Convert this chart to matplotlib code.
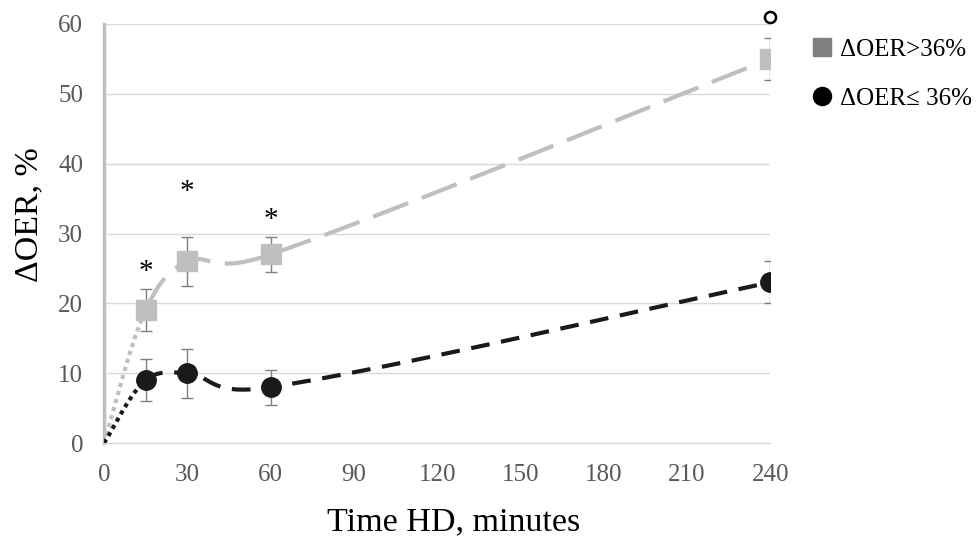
import numpy as np
import matplotlib.pyplot as plt
from matplotlib.lines import Line2D

plt.rcParams['font.family'] = ['Liberation Serif', 'DejaVu Serif']

t = [0, 15, 30, 60, 240]
high = [0, 19, 26, 27, 55]
high_err = [0, 3, 3.5, 2.5, 3]
low = [0, 9, 10, 8, 23]
low_err = [0, 3, 3.5, 2.5, 3]
star_t = [15, 30, 60]
star_y = [24.5, 36, 32]
circ_t = 240
circ_y = 61

# rough px per unit, so the smoothing is done in screen space like Excel
SX, SY = 2.76, 6.98


def smooth(xs, ys, n=40):
    p = np.column_stack([np.array(xs) * SX, np.array(ys) * SY])
    p = np.vstack([p[0], p, p[-1]])
    segs = []
    for i in range(1, len(p) - 2):
        p0, p1, p2, p3 = p[i - 1], p[i], p[i + 1], p[i + 2]
        d0 = np.linalg.norm(p1 - p0)
        d1 = np.linalg.norm(p2 - p1)
        d2 = np.linalg.norm(p3 - p2)
        # half plain catmull-rom, half length weighted
        w1 = 0.5 * 0.5 + 0.5 * (d1 / (d0 + d1) if d0 + d1 > 0 else 0)
        w2 = 0.5 * 0.5 + 0.5 * (d1 / (d1 + d2) if d1 + d2 > 0 else 0)
        c1 = p1 + (p2 - p0) * w1 / 3
        c2 = p2 - (p3 - p1) * w2 / 3
        s = np.linspace(0, 1, n)[:, None]
        b = (1 - s) ** 3 * p1 + 3 * (1 - s) ** 2 * s * c1 + 3 * (1 - s) * s ** 2 * c2 + s ** 3 * p2
        segs.append(b / [SX, SY])
    return segs


fig = plt.figure(figsize=(9.77, 5.39), dpi=100)
ax = fig.add_axes([0.1064, 0.178, 0.682, 0.7775])

light = '#bfbfbf'
dark = '#1a1a1a'

segs = smooth(t, high)
ax.plot(segs[0][:, 0], segs[0][:, 1], color=light, lw=3, linestyle=(0, (1, 1)), zorder=2)
rest = np.vstack(segs[1:])
ax.plot(rest[:, 0], rest[:, 1], color=light, lw=3, linestyle=(0, (9, 3.5)), zorder=2)

segs = smooth(t, low)
ax.plot(segs[0][:, 0], segs[0][:, 1], color=dark, lw=3, linestyle=(0, (1, 1)), zorder=3)
rest = np.vstack(segs[1:])
ax.plot(rest[:, 0], rest[:, 1], color=dark, lw=3, linestyle=(0, (4.5, 2.8)), zorder=3)

ax.errorbar(t[1:], high[1:], yerr=high_err[1:], fmt='none', ecolor='#7f7f7f',
            elinewidth=1, capsize=4, capthick=1, zorder=4)
ax.errorbar(t[1:], low[1:], yerr=low_err[1:], fmt='none', ecolor='#7f7f7f',
            elinewidth=1, capsize=4, capthick=1, zorder=4)
ax.plot(t[1:], high[1:], 's', color=light, markersize=15, zorder=5)
ax.plot(t[1:], low[1:], 'o', color=dark, markersize=14, zorder=5)

for x, y in zip(star_t, star_y):
    ax.text(x, y, '*', ha='center', va='center', fontsize=21, color='black')
ax.plot([circ_t], [circ_y], 'o', mfc='white', mec='black', mew=1.8, markersize=8, clip_on=False, zorder=6)

ax.set_xlim(0, 240)
ax.set_ylim(0, 60)
ax.set_xticks([0, 30, 60, 90, 120, 150, 180, 210, 240])
ax.set_yticks(range(0, 61, 10))
ax.yaxis.grid(True, color='#d9d9d9', lw=1)
ax.set_axisbelow(True)
for s in ['top', 'right']:
    ax.spines[s].set_visible(False)
ax.spines['left'].set_color('#bfbfbf')
ax.spines['left'].set_linewidth(2.5)
ax.spines['bottom'].set_color('#d9d9d9')
ax.spines['bottom'].set_linewidth(1)
ax.tick_params(length=0, labelsize=18, labelcolor='#595959')
ax.tick_params(axis='x', pad=15)
ax.tick_params(axis='y', pad=15)

ax.set_xlabel('Time HD, minutes', fontsize=24.5)
ax.set_ylabel('ΔOER, %', fontsize=24.5)
ax.xaxis.set_label_coords(0.525, -0.152)
ax.yaxis.set_label_coords(-0.09, 0.544)

handles = [Line2D([], [], marker='s', color='#7f7f7f', linestyle='none', markersize=13),
           Line2D([], [], marker='o', color='black', linestyle='none', markersize=13)]
fig.legend(handles, ['ΔOER>36%', 'ΔOER≤ 36%'], loc='upper left', bbox_to_anchor=(0.806, 0.97),
           frameon=False, fontsize=18, handletextpad=0.2, labelspacing=1.05, handlelength=1)

fig.savefig('out.png', dpi=100)
